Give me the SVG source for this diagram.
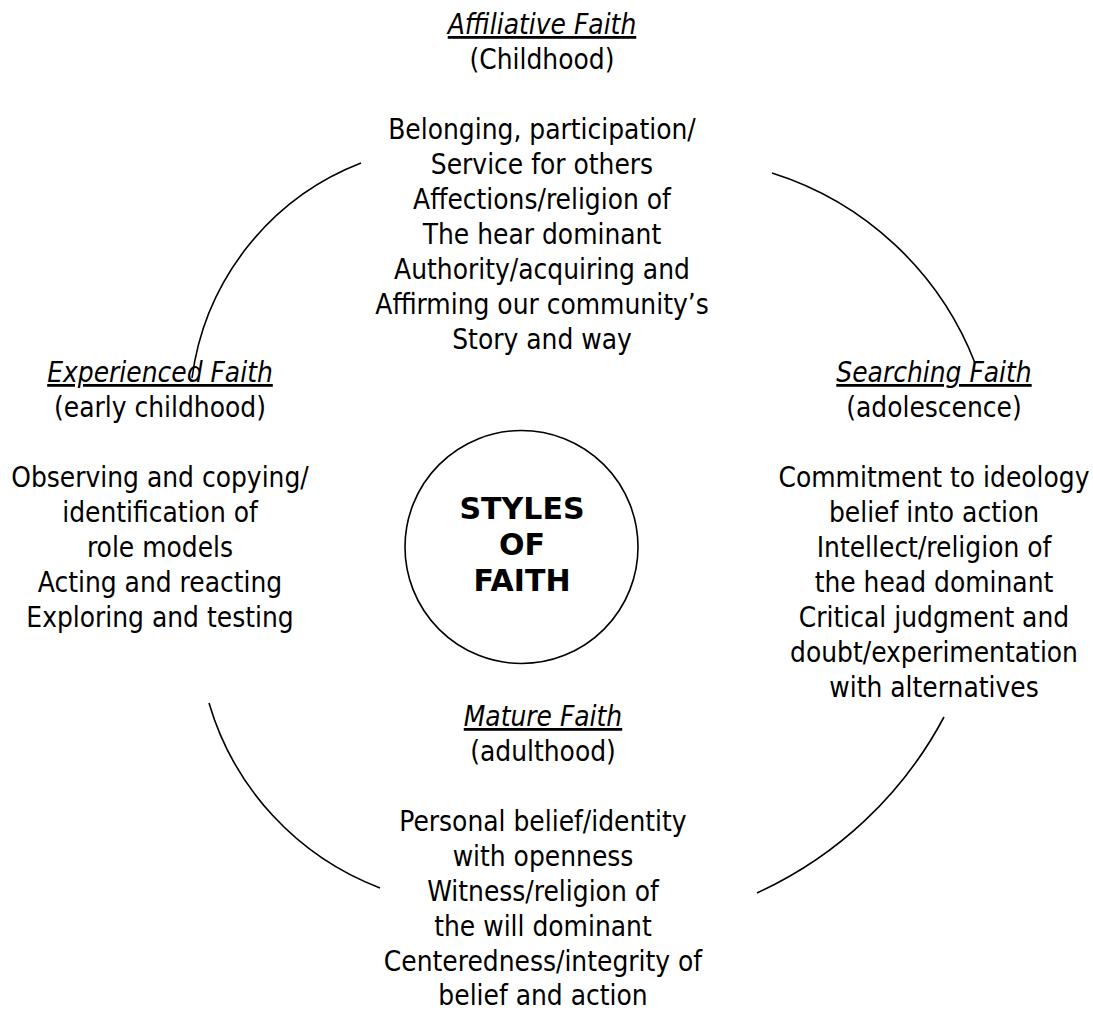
<svg xmlns="http://www.w3.org/2000/svg" width="1093" height="1012" viewBox="0 0 1093 1012">
<style>
text{font-family:"DejaVu Sans Condensed","DejaVu Sans",sans-serif;font-stretch:condensed;font-size:27.8px;fill:#000;text-anchor:middle}
.h{font-style:italic;text-decoration:underline}
.b{font-family:"DejaVu Sans",sans-serif;font-stretch:normal;font-weight:bold;font-size:30px}
.arc{fill:none;stroke:#000;stroke-width:1.6}
</style>
<rect width="1093" height="1012" fill="#fff"/>
<g id="connectors">
<path class="arc" d="M192,378 A268,268 0 0 1 361,163"/>
<path class="arc" d="M772,173 A321,321 0 0 1 975,363"/>
<path class="arc" d="M944,717 A399,399 0 0 1 757,893"/>
<path class="arc" d="M380,888 A283,283 0 0 1 209,703"/>
</g>
<g id="center">
<circle class="arc" cx="521.5" cy="547" r="116.5"/>
<text class="b" x="522" y="519">STYLES</text>
<text class="b" x="522" y="555">OF</text>
<text class="b" x="522" y="591">FAITH</text>
</g>
<g id="affiliative">
<text class="h" x="542" y="34">Affiliative Faith</text>
<text x="542" y="69">(Childhood)</text>
<text x="542" y="139">Belonging, participation/</text>
<text x="542" y="174">Service for others</text>
<text x="542" y="209">Affections/religion of</text>
<text x="542" y="244">The hear dominant</text>
<text x="542" y="279">Authority/acquiring and</text>
<text x="542" y="314">Affirming our community’s</text>
<text x="542" y="349">Story and way</text>
</g>
<g id="experienced">
<text class="h" x="160" y="382">Experienced Faith</text>
<text x="160" y="417">(early childhood)</text>
<text x="160" y="487">Observing and copying/</text>
<text x="160" y="522">identification of</text>
<text x="160" y="557">role models</text>
<text x="160" y="592">Acting and reacting</text>
<text x="160" y="627">Exploring and testing</text>
</g>
<g id="searching">
<text class="h" x="934" y="382">Searching Faith</text>
<text x="934" y="417">(adolescence)</text>
<text x="934" y="487">Commitment to ideology</text>
<text x="934" y="522">belief into action</text>
<text x="934" y="557">Intellect/religion of</text>
<text x="934" y="592">the head dominant</text>
<text x="934" y="627">Critical judgment and</text>
<text x="934" y="662">doubt/experimentation</text>
<text x="934" y="697">with alternatives</text>
</g>
<g id="mature">
<text class="h" x="543" y="726">Mature Faith</text>
<text x="543" y="761">(adulthood)</text>
<text x="543" y="831">Personal belief/identity</text>
<text x="543" y="866">with openness</text>
<text x="543" y="901">Witness/religion of</text>
<text x="543" y="936">the will dominant</text>
<text x="543" y="971">Centeredness/integrity of</text>
<text x="543" y="1005">belief and action</text>
</g>
</svg>
